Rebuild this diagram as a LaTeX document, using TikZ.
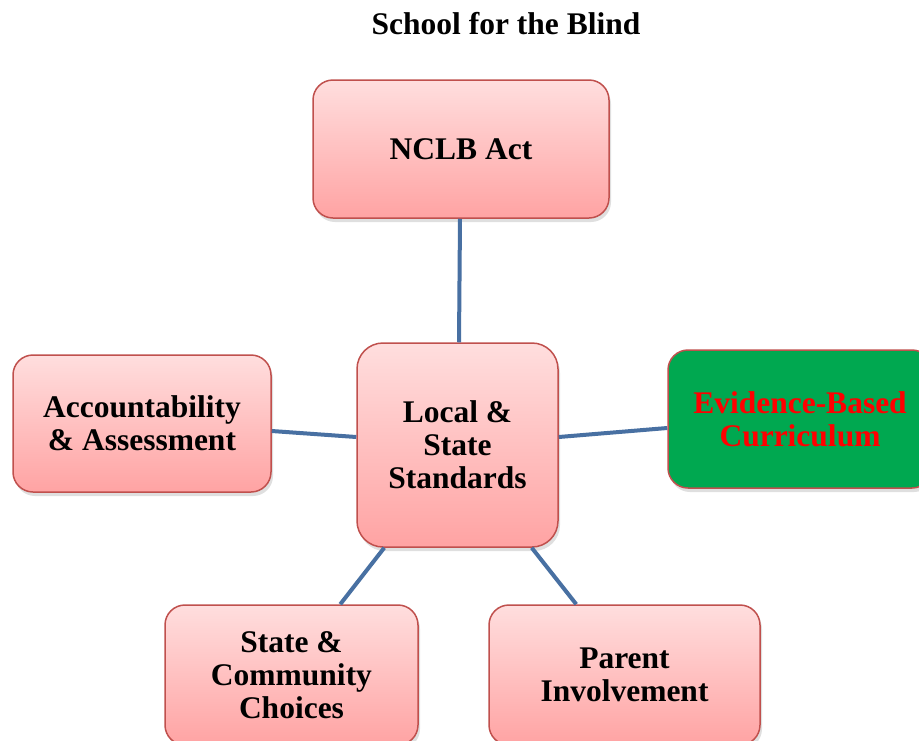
\documentclass[tikz,border=0pt]{standalone}
\usepackage{fontspec}
\setmainfont{Liberation Serif}
\usetikzlibrary{shadows}
\definecolor{boxedge}{RGB}{192,80,77}
\definecolor{pinktop}{RGB}{255,222,222}
\definecolor{pinkbot}{RGB}{255,163,163}
\definecolor{evgreen}{RGB}{0,168,80}
\definecolor{linkblue}{RGB}{72,112,162}
\tikzset{
  topic/.style={draw=boxedge, line width=1.5pt, rounded corners=20pt,
    top color=pinktop, bottom color=pinkbot, align=center,
    font=\fontsize{31.5}{33}\selectfont\bfseries,
    drop shadow={opacity=0.25, shadow xshift=2pt, shadow yshift=-4pt}},
  greentopic/.style={topic, top color=evgreen, bottom color=evgreen, text=red},
  link/.style={draw=linkblue, line width=4pt}
}
\begin{document}
\begin{tikzpicture}[x=1pt, y=-1pt]
  \useasboundingbox (0,0) rectangle (919,740);
  \clip (0,0) rectangle (919,740);
  \fill[white] (0,0) rectangle (919,740);

  \node[font=\fontsize{31.5}{34}\selectfont\bfseries] (title) at (506,24) {School for the Blind};

  \node[topic, minimum width=296pt, minimum height=138pt] (nclb) at (461,149) {NCLB Act};
  \node[topic, minimum width=201pt, minimum height=204pt, rounded corners=26pt] (std) at (457.5,445) {Local \&\\State\\Standards};
  \node[topic, minimum width=258pt, minimum height=137pt] (acc) at (142,423.5) {Accountability\\\& Assessment};
  \node[greentopic, minimum width=264pt, minimum height=138pt] (ebc) at (800,419) {Evidence-Based\\Curriculum};
  \node[topic, minimum width=253pt, minimum height=140pt] (scc) at (291.5,675) {State \&\\Community\\Choices};
  \node[topic, minimum width=271pt, minimum height=140pt] (par) at (624.5,675) {Parent\\Involvement};

  % connectors from the central standards box to each topic
  \draw[link] ([xshift=-1pt]nclb.south) -- ([xshift=1.5pt]std.north);
  \draw[link] ([yshift=-7.5pt]acc.east) -- ([yshift=8pt]std.west);
  \draw[link] ([yshift=8pt]std.east) -- ([yshift=-9pt]ebc.west);
  \draw[link] ([xshift=28pt]std.south west) -- ([xshift=176pt]scc.north west);
  \draw[link] ([xshift=-27pt]std.south east) -- ([xshift=88pt]par.north west);
\end{tikzpicture}
\end{document}
